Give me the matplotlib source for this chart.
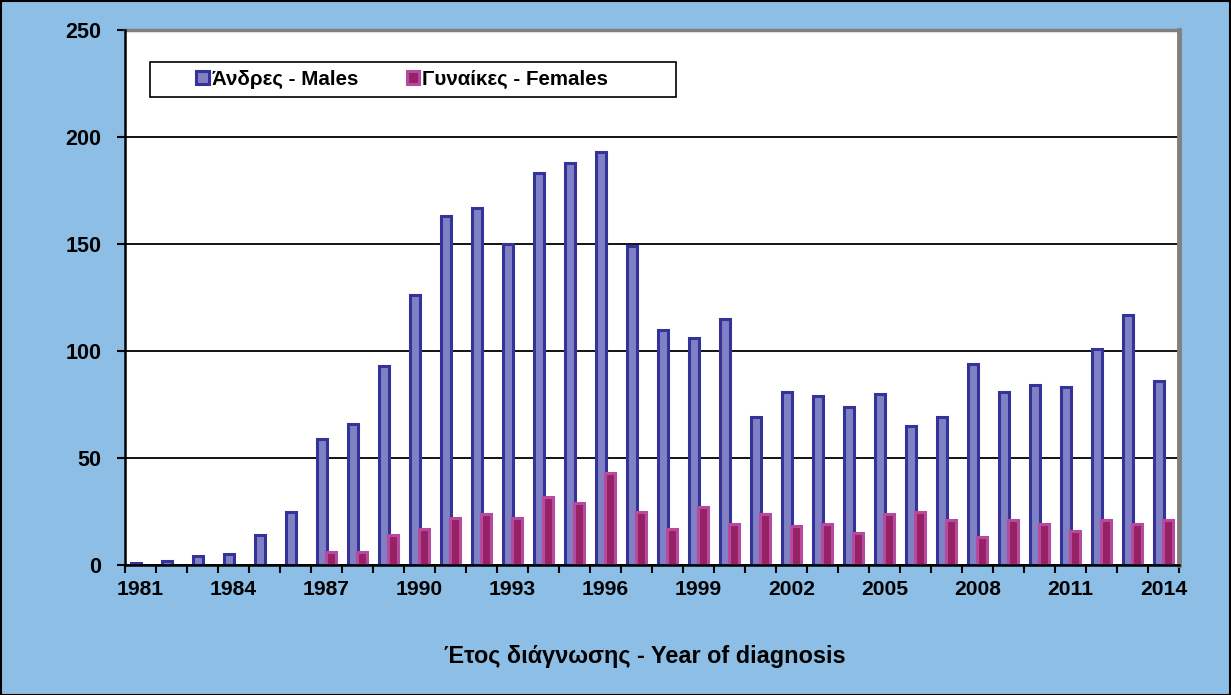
import matplotlib
matplotlib.use("Agg")
import matplotlib.pyplot as plt
import numpy as np
from matplotlib.patches import Rectangle, Patch

plt.rcParams['font.family'] = ['Liberation Sans', 'DejaVu Sans']

years = list(range(1981, 2015))
males = [1, 2, 4, 5, 14, 25, 59, 66, 93, 126, 163, 167, 150, 183, 188, 193, 149,
         110, 106, 115, 69, 81, 79, 74, 80, 65, 69, 94, 81, 84, 83, 101, 117, 86]
females = [0, 0, 0, 0, 0, 0, 6, 6, 14, 17, 22, 24, 22, 32, 29, 43, 25,
           17, 27, 19, 24, 18, 19, 15, 24, 25, 21, 13, 21, 19, 16, 21, 19, 21]
yticks = [0, 50, 100, 150, 200, 250]
label_m = "Άνδρες - Males"
label_f = "Γυναίκες - Females"
xlabel = "Έτος διάγνωσης - Year of diagnosis"

W, H = 1231, 695
fig = plt.figure(figsize=(W / 100, H / 100), dpi=100)
fig.patch.set_facecolor('#8DBFE6')
fig.patches.append(Rectangle((0.5 / W, 0.5 / H), 1 - 1.5 / W, 1 - 1.5 / H,
                             transform=fig.transFigure, fill=False,
                             edgecolor='black', linewidth=1.5, zorder=10))

L, R, B, T = 125, 1179, 565, 30
ax = fig.add_axes([L / W, (H - B) / H, (R - L) / W, (B - T) / H])
ax.set_facecolor('white')

mface, medge = '#8080C4', '#333399'
fface, fedge = '#962265', '#B54A9E'

x = np.arange(len(years))
bw = 0.32
off = 0.14
bm = ax.bar(x - off, males, width=bw, color=mface, edgecolor=medge,
            linewidth=2.2, zorder=3)
bf = ax.bar(x + off, females, width=bw, color=fface, edgecolor=fedge,
            linewidth=2.2, zorder=4)
for rect, v in zip(bf, females):
    if v == 0:
        rect.set_visible(False)

ax.set_xlim(-0.5, len(years) - 0.5)
ax.set_ylim(0, 250)
ax.set_yticks(yticks)
ax.set_yticklabels([str(v) for v in yticks], fontsize=15.5, fontweight='bold')
ax.yaxis.grid(True, color='black', linewidth=1.3, zorder=1)
ax.set_axisbelow(True)

ax.set_xticks(np.arange(-0.5, len(years), 1), minor=False)
ax.set_xticklabels([])
ax.set_xticks(x[::3], minor=True)
ax.set_xticklabels([str(years[i]) for i in x[::3]], minor=True,
                   fontsize=15.2, fontweight='bold')
ax.tick_params(axis='x', which='minor', length=0, pad=11)
ax.tick_params(axis='x', which='major', length=6, width=1.5, direction='out')
ax.tick_params(axis='y', length=6, width=1.5, direction='out', pad=11)

ax.spines['top'].set_color('#808080')
ax.spines['top'].set_linewidth(2.5)
ax.spines['right'].set_color('#808080')
ax.spines['right'].set_linewidth(3.5)
for s in ['left', 'bottom']:
    ax.spines[s].set_linewidth(1.8)
    ax.spines[s].set_zorder(5)

fig.text(645 / W, 1 - 657 / H, xlabel, fontsize=16.9, fontweight='bold',
         ha='center', va='center')

# legend frame
ax.add_patch(Rectangle((150 / W, 1 - 97 / H), (676 - 150) / W, 35 / H,
                       transform=fig.transFigure, facecolor='white',
                       edgecolor='black', linewidth=1.2, zorder=6,
                       clip_on=False))
handles = [Patch(facecolor=mface, edgecolor=medge, linewidth=2.2, label=label_m),
           Patch(facecolor=fface, edgecolor=fedge, linewidth=2.2, label=label_f)]
leg = ax.legend(handles=handles, loc='center left',
                bbox_to_anchor=(196 / W, 1 - 79.5 / H),
                bbox_transform=fig.transFigure, ncol=2, frameon=False,
                prop={'size': 14.8, 'weight': 'bold'}, handlelength=0.62,
                handleheight=0.62, handletextpad=0.15, borderaxespad=0,
                columnspacing=2.35, borderpad=0)
leg.set_zorder(20)

fig.savefig('out.png', dpi=100, facecolor=fig.get_facecolor())
